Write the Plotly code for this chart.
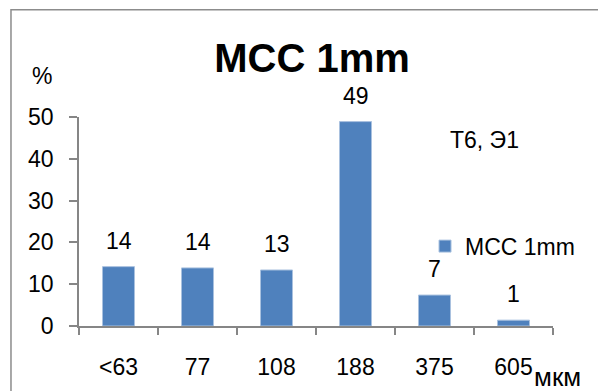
import plotly.graph_objects as go

categories = ["<63", "77", "108", "188", "375", "605"]
values = [14.2, 13.9, 13.4, 48.9, 7.4, 1.4]
series_name = "MCC 1mm"
y_ticks = [0, 10, 20, 30, 40, 50]

FONT = "Liberation Sans"
GRAY = "#868686"
FS = 23

fig = go.Figure()
fig.add_trace(go.Bar(
    x=categories, y=values, name=series_name,
    marker=dict(color="#4F81BD", line=dict(color="#A9C1DF", width=1)),
    showlegend=True,
))

for i, v in enumerate(values):
    fig.add_annotation(x=i, y=v, text=f"{v:.0f}", showarrow=False,
                       yanchor="bottom", yshift=11,
                       font=dict(family=FONT, size=FS, color="black"))

fig.add_annotation(xref="paper", yref="paper", x=-0.078, y=1.196, text="%",
                   showarrow=False, xanchor="center", yanchor="middle",
                   font=dict(family=FONT, size=FS, color="black"))
fig.add_annotation(xref="paper", yref="paper", x=0.778, y=0.89, text="Т6, Э1",
                   showarrow=False, xanchor="left", yanchor="middle",
                   font=dict(family=FONT, size=23, color="black"))
fig.add_annotation(xref="paper", yref="paper", x=0.958, y=-0.245, text="мкм",
                   showarrow=False, xanchor="left", yanchor="middle",
                   borderpad=0,
                   font=dict(family=FONT, size=26, color="black"))

fig.add_shape(type="rect", xref="paper", yref="paper",
              x0=-0.1435, x1=1.3, y0=-0.6, y1=1.513,
              line=dict(color="#8C8C8C", width=1.5))

fig.update_layout(
    width=598, height=391,
    margin=dict(l=79, r=45, t=117, b=65),
    paper_bgcolor="white", plot_bgcolor="white",
    bargap=0.595,
    title=dict(text="<b>MCC 1mm</b>", x=0.4916, xref="paper", y=1 - 58 / 391,
               yref="container", xanchor="center", yanchor="middle",
               font=dict(family=FONT, size=40, color="black")),
    legend=dict(x=0.73, y=0.382, xanchor="left", yanchor="middle",
                font=dict(family=FONT, size=FS, color="black"),
                bgcolor="rgba(0,0,0,0)"),
    font=dict(family=FONT, size=FS, color="black"),
)
fig.update_xaxes(type="category", range=[-0.5, len(categories) - 0.5],
                 showline=True, linecolor=GRAY, linewidth=1.5,
                 ticks="outside", ticklen=7, tickcolor=GRAY, tickwidth=1.5,
                 tickson="boundaries", ticklabelstandoff=20, tickangle=0,
                 automargin=False,
                 tickfont=dict(family=FONT, size=FS, color="black"),
                 showgrid=False)
fig.update_yaxes(range=[0, 50], tickvals=y_ticks, showline=True, linecolor=GRAY,
                 linewidth=1.5, ticks="outside", ticklen=8, tickcolor=GRAY,
                 tickwidth=1.5, ticklabelstandoff=11, showgrid=False,
                 zeroline=False, automargin=False,
                 tickfont=dict(family=FONT, size=FS, color="black"))

fig.write_html("out.html", config={"displayModeBar": False},
               post_script="document.body.style.margin='0';document.body.style.overflow='hidden';")
